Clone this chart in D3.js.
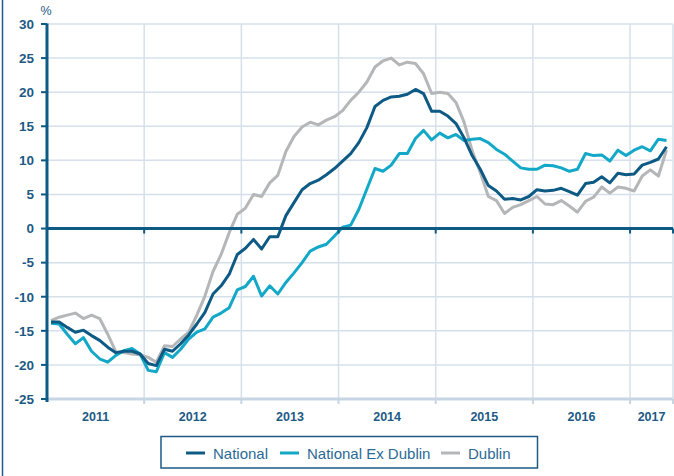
<!DOCTYPE html>
<html>
<head>
<meta charset="utf-8">
<script src="https://cdn.jsdelivr.net/npm/d3@7"></script>
<style>
  body { margin: 0; background: #fff; }
  svg { display: block; font-family: "Liberation Sans", Arial, sans-serif; }
</style>
</head>
<body>
<div id="chart"></div>
<script>
// monthly series, Jan 2011 .. May 2017 (annual % change)
var national = [
  -13.7, -13.7, -14.5, -15.2, -14.9, -15.7, -16.4, -17.4, -18.2, -18.0, -18.0, -18.4,
  -19.8, -20.1, -17.7, -18.0, -16.9, -15.6, -14.0, -12.3, -9.6, -8.4, -6.7, -3.8,
  -2.9, -1.6, -3.0, -1.2, -1.2, 1.9, 3.8, 5.7, 6.6, 7.1, 7.9, 8.8,
  9.9, 11.0, 12.6, 14.8, 17.9, 18.8, 19.3, 19.4, 19.7, 20.4, 19.8, 17.2,
  17.2, 16.5, 15.4, 13.3, 10.7, 8.7, 6.3, 5.5, 4.3, 4.4, 4.2, 4.7,
  5.7, 5.5, 5.6, 5.9, 5.4, 4.9, 6.6, 6.8, 7.6, 6.7, 8.1, 7.9,
  8.0, 9.3, 9.7, 10.2, 12.0
];
var exDublin = [
  -13.9, -14.0, -15.5, -16.9, -16.0, -18.0, -19.1, -19.6, -18.6, -17.9, -17.6, -18.4,
  -20.8, -21.0, -18.2, -18.9, -17.7, -16.2, -15.2, -14.7, -13.0, -12.4, -11.6, -9.0,
  -8.5, -7.0, -9.9, -8.4, -9.6, -7.9, -6.5, -5.0, -3.3, -2.7, -2.3, -1.1,
  0.2, 0.5, 2.8, 5.8, 8.8, 8.4, 9.3, 11.0, 11.0, 13.2, 14.4, 13.0,
  14.0, 13.3, 13.8, 12.9, 13.1, 13.2, 12.6, 11.6, 10.9, 9.9, 8.9, 8.7,
  8.7, 9.3, 9.2, 8.9, 8.4, 8.7, 11.0, 10.7, 10.8, 9.9, 11.5, 10.7,
  11.5, 12.0, 11.4, 13.1, 12.9
];
var dublin = [
  -13.5, -13.0, -12.7, -12.4, -13.2, -12.7, -13.2, -15.5, -18.1, -18.2, -18.4, -18.5,
  -18.9, -19.6, -17.2, -17.3, -16.2, -15.2, -12.7, -9.9, -6.3, -3.8, -0.6, 2.1,
  3.0, 5.0, 4.7, 6.7, 7.8, 11.3, 13.5, 14.9, 15.6, 15.2, 15.9, 16.4,
  17.3, 18.8, 20.0, 21.5, 23.7, 24.6, 25.0, 24.0, 24.4, 24.2, 22.7, 19.8,
  20.0, 19.8, 18.5, 15.6, 11.4, 8.2, 4.7, 4.1, 2.2, 3.1, 3.5, 4.1,
  4.7, 3.6, 3.5, 4.1, 3.3, 2.4, 4.0, 4.6, 6.1, 5.2, 6.1, 5.9,
  5.5, 7.7, 8.6, 7.7, 11.5
];
var yearLabels = ['2011', '2012', '2013', '2014', '2015', '2016', '2017'];
var yTicks = [30, 25, 20, 15, 10, 5, 0, -5, -10, -15, -20, -25];
var seriesNames = ['National', 'National Ex Dublin', 'Dublin'];
var seriesColors = ['#0d5a84', '#13a8c7', '#b4b6b8'];

var width = 674, height = 476;
var plotLeft = 47, plotRight = 673, plotTop = 24, plotBottom = 399;
var monthsShown = 77.3;
var textColor = '#1d5a85';
var gridColor = '#d6e0eb';

var svg = d3.select('#chart').append('svg')
  .attr('width', width).attr('height', height);

var x = d3.scaleLinear().domain([0, monthsShown]).range([plotLeft, plotRight]);
var y = d3.scaleLinear().domain([-25, 30]).range([plotBottom, plotTop]);

// outer left rule
svg.append('line')
  .attr('x1', 2.5).attr('x2', 2.5).attr('y1', 0).attr('y2', height)
  .attr('stroke', '#1d5a85').attr('stroke-width', 1.5);

// grid
var grid = svg.append('g');
grid.selectAll('line.h').data(yTicks.filter(function (d) { return d > -25 && d !== 0; }))
  .enter().append('line')
  .attr('x1', plotLeft).attr('x2', plotRight)
  .attr('y1', function (d) { return y(d); }).attr('y2', function (d) { return y(d); })
  .attr('stroke', gridColor).attr('stroke-width', 1.5);

var vLines = yearLabels.slice(1).map(function (d, i) { return (i + 1) * 12; }).concat([monthsShown]);
grid.selectAll('line.v').data(vLines)
  .enter().append('line')
  .attr('x1', function (d) { return x(d); }).attr('x2', function (d) { return x(d); })
  .attr('y1', plotTop).attr('y2', plotBottom)
  .attr('stroke', gridColor).attr('stroke-width', 1.5);

// bottom axis (at -25)
svg.append('line')
  .attr('x1', plotLeft).attr('x2', plotRight).attr('y1', y(-25)).attr('y2', y(-25))
  .attr('stroke', '#c8d5e3').attr('stroke-width', 3);
svg.selectAll('line.bt').data(vLines)
  .enter().append('line')
  .attr('x1', function (d) { return x(d); }).attr('x2', function (d) { return x(d); })
  .attr('y1', y(-25)).attr('y2', y(-25) + 5)
  .attr('stroke', '#c8d5e3').attr('stroke-width', 2);

// year labels centred in each year band
svg.selectAll('text.year').data(yearLabels)
  .enter().append('text')
  .attr('x', function (d, i) { return (x(i * 12) + x(Math.min(i * 12 + 12, monthsShown))) / 2; })
  .attr('y', 421)
  .attr('text-anchor', 'middle')
  .attr('font-size', 12.5).attr('font-weight', 'bold')
  .attr('fill', textColor)
  .text(function (d) { return d; });

// lines
var line = d3.line()
  .x(function (d, i) { return x(i + 0.5); })
  .y(function (d) { return y(d); });

[[dublin, 2], [exDublin, 1], [national, 0]].forEach(function (s) {
  svg.append('path')
    .datum(s[0])
    .attr('d', line)
    .attr('fill', 'none')
    .attr('stroke', seriesColors[s[1]])
    .attr('stroke-width', 3)
    .attr('stroke-linejoin', 'round');
});

// zero line with year ticks
svg.append('line')
  .attr('x1', plotLeft).attr('x2', plotRight).attr('y1', y(0)).attr('y2', y(0))
  .attr('stroke', '#0d5a84').attr('stroke-width', 3);
svg.selectAll('line.zt').data(vLines)
  .enter().append('line')
  .attr('x1', function (d) { return x(d); }).attr('x2', function (d) { return x(d); })
  .attr('y1', y(0)).attr('y2', y(0) + 5)
  .attr('stroke', '#0d5a84').attr('stroke-width', 2);

// y axis
svg.append('line')
  .attr('x1', plotLeft).attr('x2', plotLeft).attr('y1', plotTop - 0.5).attr('y2', plotBottom + 3)
  .attr('stroke', '#0d5a84').attr('stroke-width', 3);
svg.selectAll('line.yt').data(yTicks)
  .enter().append('line')
  .attr('x1', plotLeft - 6).attr('x2', plotLeft)
  .attr('y1', function (d) { return y(d); }).attr('y2', function (d) { return y(d); })
  .attr('stroke', '#0d5a84').attr('stroke-width', 2);
svg.selectAll('text.ylab').data(yTicks)
  .enter().append('text')
  .attr('x', 34)
  .attr('y', function (d) { return y(d) + 4.8; })
  .attr('text-anchor', 'end')
  .attr('font-size', 13.5).attr('font-weight', 'bold')
  .attr('fill', textColor)
  .text(function (d) { return d; });

svg.append('text')
  .attr('x', 46).attr('y', 15)
  .attr('text-anchor', 'middle')
  .attr('font-size', 12.5)
  .attr('fill', textColor)
  .text('%');

// legend
var legend = svg.append('g');
legend.append('rect')
  .attr('x', 161).attr('y', 436.5).attr('width', 376.5).attr('height', 31.5)
  .attr('fill', '#fff').attr('stroke', '#1d5a85').attr('stroke-width', 1.5);
var legendX = [186, 280, 441];
seriesNames.forEach(function (name, i) {
  legend.append('line')
    .attr('x1', legendX[i]).attr('x2', legendX[i] + 19)
    .attr('y1', 453).attr('y2', 453)
    .attr('stroke', seriesColors[i]).attr('stroke-width', 3);
  legend.append('text')
    .attr('x', legendX[i] + 27).attr('y', 458.5)
    .attr('font-size', 15)
    .attr('fill', '#2a6a96')
    .text(name);
});
</script>
</body>
</html>
